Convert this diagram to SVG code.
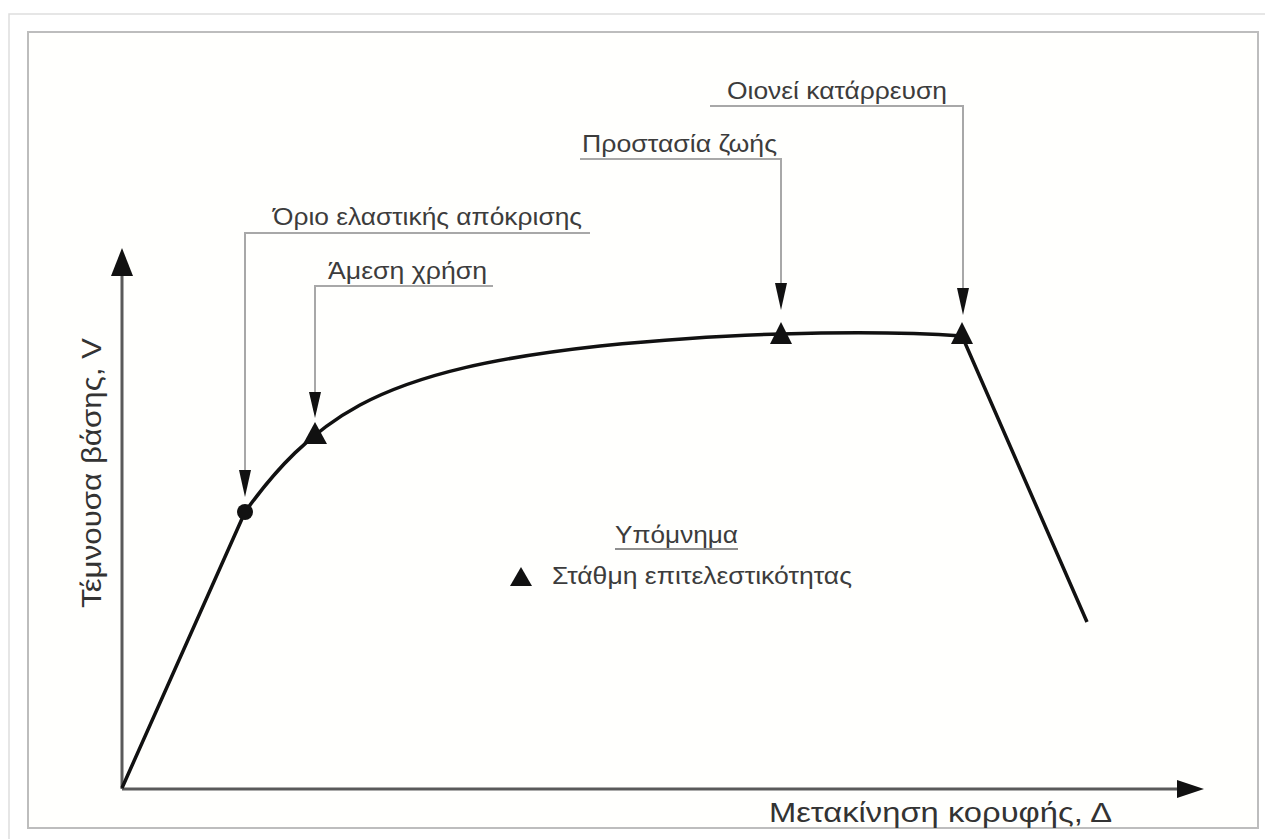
<svg xmlns="http://www.w3.org/2000/svg" width="1265" height="839" viewBox="0 0 1265 839">
  <style>
    .lbl { font-family: "Liberation Sans", "DejaVu Sans", sans-serif; fill: #3c3c3c; font-size: 23px; }
    .axlbl { font-family: "Liberation Sans", "DejaVu Sans", sans-serif; fill: #333; font-size: 27px; }
    .axis { stroke: #5a5a5a; stroke-width: 3; fill: none; }
    .lead { stroke: #a8a8a8; stroke-width: 2; fill: none; }
    .curve { stroke: #111; stroke-width: 3.5; fill: none; stroke-linejoin: round; }
    .ah { fill: #111; }
    .mk { fill: #111; }
  </style>
  <rect x="0" y="0" width="1265" height="839" fill="#ffffff"/>
  <!-- frames -->
  <g id="frame">
    <polyline points="9,839 9,14 1265,14" fill="none" stroke="#dedede" stroke-width="1.5"/>
    <rect x="28" y="32" width="1230" height="796" fill="#fffffd" stroke="#bdbdbd" stroke-width="2"/>
  </g>
  <!-- axes -->
  <g id="axes">
    <line class="axis" x1="122" y1="789" x2="122" y2="272"/>
    <polygon class="ah" points="122,248 111,276 133,276"/>
    <line class="axis" x1="122" y1="789" x2="1180" y2="789"/>
    <polygon class="ah" points="1204,789 1177,780 1177,798"/>
    <text class="axlbl" x="769" y="822" textLength="343" lengthAdjust="spacingAndGlyphs">Μετακίνηση κορυφής, Δ</text>
    <text class="axlbl" transform="translate(101,608) rotate(-90)" x="0" y="0" textLength="270" lengthAdjust="spacingAndGlyphs">Τέμνουσα βάσης, V</text>
  </g>
  <!-- curve -->
  <g id="curve">
    <path class="curve" d="M122,788 L245,512 C275,470 310,432 360,405 C420,373 500,357 600,346 C680,338 740,335 781,334 C850,332 920,333 962,336 L1087,622"/>
  </g>
  <!-- connectors / callouts -->
  <g id="connectors">
    <polyline class="lead" points="590,233 245,233 245,472"/>
    <polygon class="ah" points="239,470 251,470 245,497"/>
    <polyline class="lead" points="493,286 315,286 315,394"/>
    <polygon class="ah" points="309,392 321,392 315,418"/>
    <polyline class="lead" points="580,159 781,159 781,285"/>
    <polygon class="ah" points="775,283 787,283 781,310"/>
    <polyline class="lead" points="710,106 963,106 963,290"/>
    <polygon class="ah" points="957,288 969,288 963,315"/>
  </g>
  <!-- nodes -->
  <g id="node-elastic">
    <circle class="mk" cx="245" cy="512" r="8"/>
    <text class="lbl" x="273" y="225" textLength="309" lengthAdjust="spacingAndGlyphs">Όριο ελαστικής απόκρισης</text>
  </g>
  <g id="node-immediate">
    <polygon class="mk" points="315,422 303,444 327,444"/>
    <text class="lbl" x="328" y="279" textLength="159" lengthAdjust="spacingAndGlyphs">Άμεση χρήση</text>
  </g>
  <g id="node-life">
    <polygon class="mk" points="781,322 770,344 792,344"/>
    <text class="lbl" x="582" y="152" textLength="195" lengthAdjust="spacingAndGlyphs">Προστασία ζωής</text>
  </g>
  <g id="node-collapse">
    <polygon class="mk" points="962,322 951,344 973,344"/>
    <text class="lbl" x="727" y="99" textLength="220" lengthAdjust="spacingAndGlyphs">Οιονεί κατάρρευση</text>
  </g>
  <!-- legend -->
  <g id="legend">
    <text class="lbl" x="615" y="543" textLength="123" lengthAdjust="spacingAndGlyphs">Υπόμνημα</text>
    <line x1="615" y1="549" x2="738" y2="549" stroke="#6a6a6a" stroke-width="1.5"/>
    <polygon class="mk" points="521,567 510,586 532,586"/>
    <text class="lbl" x="552" y="584" textLength="300" lengthAdjust="spacingAndGlyphs">Στάθμη επιτελεστικότητας</text>
  </g>
</svg>
